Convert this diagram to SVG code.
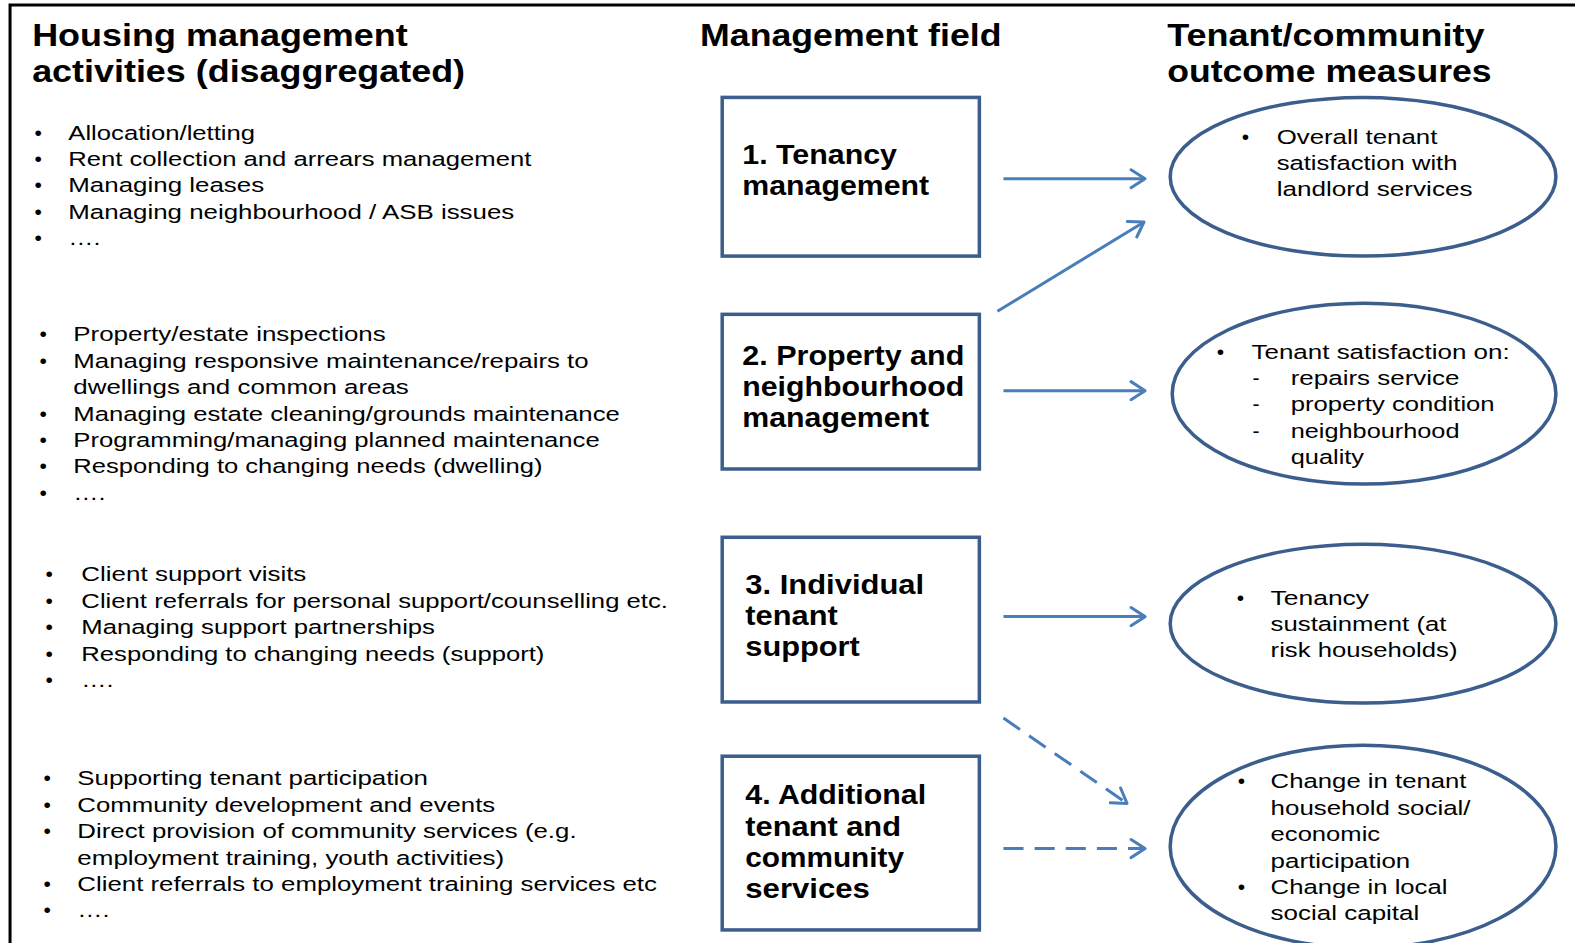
<svg xmlns="http://www.w3.org/2000/svg" width="1575" height="943" viewBox="0 0 1575 943">
  <style>
    .title { font-family: "Liberation Sans", Arial, sans-serif; font-size: 32px; font-weight: bold; fill: #000; }
    .item { font-family: "Liberation Sans", Arial, sans-serif; font-size: 21px; fill: #000; }
    .bul { font-family: "Liberation Sans", Arial, sans-serif; font-size: 21px; fill: #000; text-anchor: middle; }
    .boxlbl { font-family: "Liberation Sans", Arial, sans-serif; font-size: 27px; font-weight: bold; fill: #000; }
    .box { fill: #fff; stroke: #3b5e8c; stroke-width: 3.5; }
    .oval { fill: #fff; stroke: #3b5e8c; stroke-width: 3.5; }
    .link { fill: none; stroke: #4a7ebb; stroke-width: 3; marker-end: url(#head); }
    .dash { stroke-dasharray: 20 11; }
  </style>
  <defs>
    <marker id="head" markerUnits="userSpaceOnUse" markerWidth="22" markerHeight="26" viewBox="0 0 22 26" refX="17" refY="13" orient="auto">
      <path d="M3,4 L17,13 L3,22" fill="none" stroke="#4a7ebb" stroke-width="3" stroke-linecap="round" stroke-linejoin="round" stroke-dasharray="none"/>
    </marker>
  </defs>

  <rect width="1575" height="943" fill="#fff"/>

  <g transform="scale(1.00446,1.00426)">
  <!-- page frame (left and top edges) -->
  <path d="M10,945 L10,5 L1575,5" fill="none" stroke="#000" stroke-width="3"/>

  <!-- column headings -->
  <g id="headings">
    <text class="title" x="32" y="46" textLength="374" lengthAdjust="spacingAndGlyphs">Housing management</text>
    <text class="title" x="32" y="82" textLength="431" lengthAdjust="spacingAndGlyphs">activities (disaggregated)</text>
    <text class="title" x="697" y="46" textLength="300" lengthAdjust="spacingAndGlyphs">Management field</text>
    <text class="title" x="1162" y="46" textLength="316" lengthAdjust="spacingAndGlyphs">Tenant/community</text>
    <text class="title" x="1162" y="82" textLength="323" lengthAdjust="spacingAndGlyphs">outcome measures</text>
  </g>

  <!-- activity lists -->
  <g id="activities-tenancy">
    <text class="bul" x="38" y="139">•</text>
    <text class="item" x="68" y="139" textLength="186" lengthAdjust="spacingAndGlyphs">Allocation/letting</text>
    <text class="bul" x="38" y="165.3">•</text>
    <text class="item" x="68" y="165.3" textLength="461" lengthAdjust="spacingAndGlyphs">Rent collection and arrears management</text>
    <text class="bul" x="38" y="191.6">•</text>
    <text class="item" x="68" y="191.6" textLength="195" lengthAdjust="spacingAndGlyphs">Managing leases</text>
    <text class="bul" x="38" y="217.9">•</text>
    <text class="item" x="68" y="217.9" textLength="444" lengthAdjust="spacingAndGlyphs">Managing neighbourhood / ASB issues</text>
    <text class="bul" x="38" y="244.2">•</text>
    <text class="item" x="68" y="244.2" textLength="32" lengthAdjust="spacingAndGlyphs">….</text>
  </g>

  <g id="activities-property">
    <text class="bul" x="43" y="340">•</text>
    <text class="item" x="73" y="340" textLength="311" lengthAdjust="spacingAndGlyphs">Property/estate inspections</text>
    <text class="bul" x="43" y="366.3">•</text>
    <text class="item" x="73" y="366.3" textLength="513" lengthAdjust="spacingAndGlyphs">Managing responsive maintenance/repairs to</text>
    <text class="item" x="73" y="392.6" textLength="334" lengthAdjust="spacingAndGlyphs">dwellings and common areas</text>
    <text class="bul" x="43" y="418.9">•</text>
    <text class="item" x="73" y="418.9" textLength="544" lengthAdjust="spacingAndGlyphs">Managing estate cleaning/grounds maintenance</text>
    <text class="bul" x="43" y="445.2">•</text>
    <text class="item" x="73" y="445.2" textLength="524" lengthAdjust="spacingAndGlyphs">Programming/managing planned maintenance</text>
    <text class="bul" x="43" y="471.5">•</text>
    <text class="item" x="73" y="471.5" textLength="467" lengthAdjust="spacingAndGlyphs">Responding to changing needs (dwelling)</text>
    <text class="bul" x="43" y="497.8">•</text>
    <text class="item" x="73" y="497.8" textLength="32" lengthAdjust="spacingAndGlyphs">….</text>
  </g>

  <g id="activities-support">
    <text class="bul" x="49" y="579">•</text>
    <text class="item" x="81" y="579" textLength="224" lengthAdjust="spacingAndGlyphs">Client support visits</text>
    <text class="bul" x="49" y="605.3">•</text>
    <text class="item" x="81" y="605.3" textLength="584" lengthAdjust="spacingAndGlyphs">Client referrals for personal support/counselling etc.</text>
    <text class="bul" x="49" y="631.6">•</text>
    <text class="item" x="81" y="631.6" textLength="352" lengthAdjust="spacingAndGlyphs">Managing support partnerships</text>
    <text class="bul" x="49" y="657.9">•</text>
    <text class="item" x="81" y="657.9" textLength="461" lengthAdjust="spacingAndGlyphs">Responding to changing needs (support)</text>
    <text class="bul" x="49" y="684.2">•</text>
    <text class="item" x="81" y="684.2" textLength="32" lengthAdjust="spacingAndGlyphs">….</text>
  </g>

  <g id="activities-community">
    <text class="bul" x="47" y="782">•</text>
    <text class="item" x="77" y="782" textLength="349" lengthAdjust="spacingAndGlyphs">Supporting tenant participation</text>
    <text class="bul" x="47" y="808.3">•</text>
    <text class="item" x="77" y="808.3" textLength="416" lengthAdjust="spacingAndGlyphs">Community development and events</text>
    <text class="bul" x="47" y="834.6">•</text>
    <text class="item" x="77" y="834.6" textLength="497" lengthAdjust="spacingAndGlyphs">Direct provision of community services (e.g.</text>
    <text class="item" x="77" y="860.9" textLength="425" lengthAdjust="spacingAndGlyphs">employment training, youth activities)</text>
    <text class="bul" x="47" y="887.2">•</text>
    <text class="item" x="77" y="887.2" textLength="577" lengthAdjust="spacingAndGlyphs">Client referrals to employment training services etc</text>
    <text class="bul" x="47" y="913.5">•</text>
    <text class="item" x="77" y="913.5" textLength="32" lengthAdjust="spacingAndGlyphs">….</text>
  </g>

  <!-- connectors -->
  <g id="connectors">
    <path class="link" d="M999,178 L1140,178"/>
    <path class="link" d="M993,310 L1139,221"/>
    <path class="link" d="M999,389 L1140,389"/>
    <path class="link" d="M999,614 L1140,614"/>
    <path class="link dash" d="M999,715 L1122,800"/>
    <path class="link dash" d="M999,845 L1140,845"/>
  </g>

  <!-- management field boxes -->
  <g id="field-tenancy">
    <rect class="box" x="719" y="97" width="256" height="158"/>
    <text class="boxlbl" x="739" y="163" textLength="154" lengthAdjust="spacingAndGlyphs">1. Tenancy</text>
    <text class="boxlbl" x="739" y="194" textLength="186" lengthAdjust="spacingAndGlyphs">management</text>
  </g>
  <g id="field-property">
    <rect class="box" x="719" y="313" width="256" height="154"/>
    <text class="boxlbl" x="739" y="363" textLength="221" lengthAdjust="spacingAndGlyphs">2. Property and</text>
    <text class="boxlbl" x="739" y="394" textLength="221" lengthAdjust="spacingAndGlyphs">neighbourhood</text>
    <text class="boxlbl" x="739" y="425" textLength="186" lengthAdjust="spacingAndGlyphs">management</text>
  </g>
  <g id="field-support">
    <rect class="box" x="719" y="535" width="256" height="164"/>
    <text class="boxlbl" x="742" y="591" textLength="178" lengthAdjust="spacingAndGlyphs">3. Individual</text>
    <text class="boxlbl" x="742" y="622" textLength="92" lengthAdjust="spacingAndGlyphs">tenant</text>
    <text class="boxlbl" x="742" y="653" textLength="114" lengthAdjust="spacingAndGlyphs">support</text>
  </g>
  <g id="field-community">
    <rect class="box" x="719" y="753" width="256" height="173"/>
    <text class="boxlbl" x="742" y="801" textLength="180" lengthAdjust="spacingAndGlyphs">4. Additional</text>
    <text class="boxlbl" x="742" y="832" textLength="155" lengthAdjust="spacingAndGlyphs">tenant and</text>
    <text class="boxlbl" x="742" y="863" textLength="158" lengthAdjust="spacingAndGlyphs">community</text>
    <text class="boxlbl" x="742" y="894" textLength="124" lengthAdjust="spacingAndGlyphs">services</text>
  </g>

  <!-- outcome measures -->
  <g id="outcome-satisfaction">
    <ellipse class="oval" cx="1357" cy="176" rx="192" ry="79"/>
    <text class="bul" x="1240" y="143">•</text>
    <text class="item" x="1271" y="143" textLength="160" lengthAdjust="spacingAndGlyphs">Overall tenant</text>
    <text class="item" x="1271" y="169.3" textLength="180" lengthAdjust="spacingAndGlyphs">satisfaction with</text>
    <text class="item" x="1271" y="195.6" textLength="195" lengthAdjust="spacingAndGlyphs">landlord services</text>
  </g>
  <g id="outcome-property">
    <ellipse class="oval" cx="1358" cy="392" rx="191" ry="90"/>
    <text class="bul" x="1215" y="357">•</text>
    <text class="item" x="1246" y="357" textLength="257" lengthAdjust="spacingAndGlyphs">Tenant satisfaction on:</text>
    <text class="item" x="1247" y="383.3">-</text>
    <text class="item" x="1285" y="383.3" textLength="168" lengthAdjust="spacingAndGlyphs">repairs service</text>
    <text class="item" x="1247" y="409.6">-</text>
    <text class="item" x="1285" y="409.6" textLength="203" lengthAdjust="spacingAndGlyphs">property condition</text>
    <text class="item" x="1247" y="435.9">-</text>
    <text class="item" x="1285" y="435.9" textLength="168" lengthAdjust="spacingAndGlyphs">neighbourhood</text>
    <text class="item" x="1285" y="462.2" textLength="73" lengthAdjust="spacingAndGlyphs">quality</text>
  </g>
  <g id="outcome-sustainment">
    <ellipse class="oval" cx="1357" cy="621" rx="192" ry="79"/>
    <text class="bul" x="1235" y="602">•</text>
    <text class="item" x="1265" y="602" textLength="98" lengthAdjust="spacingAndGlyphs">Tenancy</text>
    <text class="item" x="1265" y="628.3" textLength="175" lengthAdjust="spacingAndGlyphs">sustainment (at</text>
    <text class="item" x="1265" y="654.6" textLength="186" lengthAdjust="spacingAndGlyphs">risk households)</text>
  </g>
  <g id="outcome-participation">
    <ellipse class="oval" cx="1357" cy="843" rx="192" ry="101"/>
    <text class="bul" x="1236" y="785">•</text>
    <text class="item" x="1265" y="785" textLength="195" lengthAdjust="spacingAndGlyphs">Change in tenant</text>
    <text class="item" x="1265" y="811.3" textLength="199" lengthAdjust="spacingAndGlyphs">household social/</text>
    <text class="item" x="1265" y="837.6" textLength="109" lengthAdjust="spacingAndGlyphs">economic</text>
    <text class="item" x="1265" y="863.9" textLength="139" lengthAdjust="spacingAndGlyphs">participation</text>
    <text class="bul" x="1236" y="890.2">•</text>
    <text class="item" x="1265" y="890.2" textLength="176" lengthAdjust="spacingAndGlyphs">Change in local</text>
    <text class="item" x="1265" y="916.5" textLength="148" lengthAdjust="spacingAndGlyphs">social capital</text>
  </g>
  </g>
</svg>
